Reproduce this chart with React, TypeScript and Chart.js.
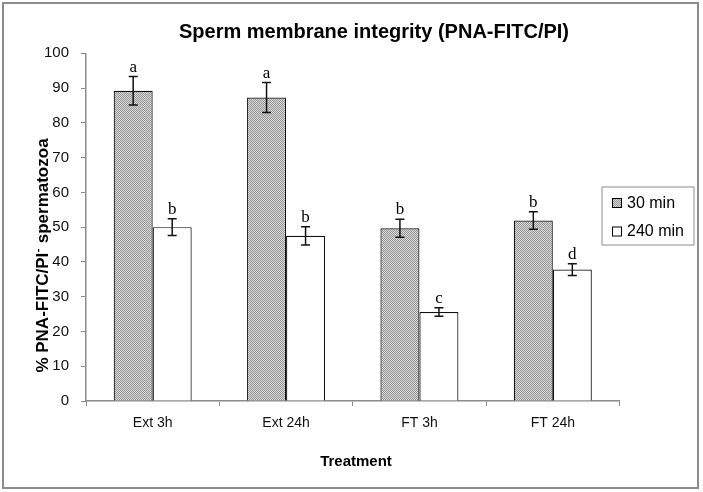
import React, { useEffect, useRef } from "react";
import Chart from "chart.js/auto";

const categories = ["Ext 3h", "Ext 24h", "FT 3h", "FT 24h"];
const seriesLabels = ["30 min", "240 min"];
const min30 = [89.2, 87.3, 49.7, 51.9];
const min30Err = [4.1, 4.3, 2.6, 2.5];
const min240 = [50.0, 47.5, 25.6, 37.8];
const min240Err = [2.4, 2.6, 1.2, 1.7];
const letters30 = ["a", "a", "b", "b"];
const letters240 = ["b", "b", "c", "d"];
const yTicks = [0, 10, 20, 30, 40, 50, 60, 70, 80, 90, 100];

const chartTitle = "Sperm membrane integrity (PNA-FITC/PI)";
const xTitle = "Treatment";
const yTitleParts = ["% PNA-FITC/PI", "-", " spermatozoa"];

const SANS = "'Liberation Sans', Arial, sans-serif";
const SERIF = "'Liberation Serif', 'Times New Roman', serif";

function makePattern(): CanvasPattern | string {
  const c = document.createElement("canvas");
  c.width = 2;
  c.height = 2;
  const g = c.getContext("2d");
  if (!g) return "#b4b4b4";
  g.fillStyle = "#d6d6d6";
  g.fillRect(0, 0, 2, 2);
  g.fillStyle = "#989898";
  g.fillRect(0, 0, 1, 1);
  g.fillRect(1, 1, 1, 1);
  const p = g.createPattern(c, "repeat");
  return p || "#b4b4b4";
}

export default function App() {
  const ref = useRef<HTMLCanvasElement | null>(null);

  useEffect(() => {
    const canvas = ref.current;
    if (!canvas) return;
    const pattern = makePattern();
    const errs = [min30Err, min240Err];
    const letters = [letters30, letters240];

    const overlay = {
      id: "overlay",
      beforeDraw(chart: any) {
        const ctx = chart.ctx;
        ctx.save();
        ctx.fillStyle = "#ffffff";
        ctx.fillRect(0, 0, chart.width, chart.height);
        ctx.restore();
      },
      afterDatasetsDraw(chart: any) {
        const ctx = chart.ctx;
        const y = chart.scales.y;
        ctx.save();
        chart.data.datasets.forEach((ds: any, di: number) => {
          const meta = chart.getDatasetMeta(di);
          meta.data.forEach((bar: any, i: number) => {
            const v = ds.data[i];
            const e = errs[di][i];
            const x = bar.x;
            const yt = y.getPixelForValue(v + e);
            const yb = y.getPixelForValue(v - e);
            ctx.strokeStyle = "#111";
            ctx.lineWidth = 1.5;
            ctx.beginPath();
            ctx.moveTo(x, yt);
            ctx.lineTo(x, yb);
            ctx.moveTo(x - 4.5, yt);
            ctx.lineTo(x + 4.5, yt);
            ctx.moveTo(x - 4.5, yb);
            ctx.lineTo(x + 4.5, yb);
            ctx.stroke();
            ctx.fillStyle = "#000";
            ctx.font = `17px ${SERIF}`;
            ctx.textAlign = "center";
            ctx.textBaseline = "alphabetic";
            ctx.fillText(letters[di][i], x, yt - 5);
          });
        });
        ctx.restore();
      },
      afterDraw(chart: any) {
        const ctx = chart.ctx;
        ctx.save();
        // outer border
        ctx.strokeStyle = "#8c8c8c";
        ctx.lineWidth = 2;
        ctx.strokeRect(3, 3, 695, 485);
        // title
        ctx.fillStyle = "#000";
        ctx.textAlign = "center";
        ctx.textBaseline = "middle";
        ctx.font = `bold 20px ${SANS}`;
        ctx.fillText(chartTitle, 374, 32);
        // x title
        ctx.font = `bold 15px ${SANS}`;
        ctx.fillText(xTitle, 356, 462);
        // y title with superscript
        ctx.translate(43.5, 256);
        ctx.rotate(-Math.PI / 2);
        ctx.textAlign = "left";
        const f1 = `bold 17px ${SANS}`;
        const f2 = `bold 11px ${SANS}`;
        ctx.font = f1;
        const w1 = ctx.measureText(yTitleParts[0]).width;
        const w3 = ctx.measureText(yTitleParts[2]).width;
        ctx.font = f2;
        const w2 = ctx.measureText(yTitleParts[1]).width;
        let sx = -(w1 + w2 + w3) / 2;
        ctx.font = f1;
        ctx.fillText(yTitleParts[0], sx, 0);
        sx += w1;
        ctx.font = f2;
        ctx.fillText(yTitleParts[1], sx + 0.5, -6);
        sx += w2 + 1;
        ctx.font = f1;
        ctx.fillText(yTitleParts[2], sx, 0);
        ctx.setTransform(1, 0, 0, 1, 0, 0);
        // legend
        ctx.strokeStyle = "#8c8c8c";
        ctx.lineWidth = 1;
        ctx.strokeRect(602, 187, 92, 58);
        const ys = [202.5, 231];
        chart.data.datasets.forEach((ds: any, di: number) => {
          ctx.fillStyle = ds.backgroundColor;
          ctx.fillRect(612, ys[di] - 4.5, 9, 9);
          ctx.strokeStyle = "#000";
          ctx.lineWidth = 1;
          ctx.strokeRect(612.5, ys[di] - 4, 9, 9);
          ctx.fillStyle = "#000";
          ctx.font = `16px ${SANS}`;
          ctx.textAlign = "left";
          ctx.textBaseline = "middle";
          ctx.fillText(ds.label, 627, ys[di] + 1);
        });
        ctx.restore();
      },
    };

    const chart = new Chart(canvas, {
      type: "bar",
      data: {
        labels: categories,
        datasets: [
          {
            label: seriesLabels[0],
            data: min30,
            backgroundColor: pattern as any,
            borderColor: "#111",
            borderWidth: 1.2,
            categoryPercentage: 0.585,
            barPercentage: 1,
          },
          {
            label: seriesLabels[1],
            data: min240,
            backgroundColor: "#ffffff",
            borderColor: "#111",
            borderWidth: 1.2,
            categoryPercentage: 0.585,
            barPercentage: 1,
          },
        ],
      },
      options: {
        animation: false,
        responsive: false,
        devicePixelRatio: 1,
        layout: { padding: { top: 53.3, left: 0, right: 83.5, bottom: 0 } },
        plugins: {
          legend: { display: false },
          title: { display: false },
          tooltip: { enabled: false },
        },
        scales: {
          x: {
            offset: true,
            grid: {
              offset: true,
              drawOnChartArea: false,
              drawTicks: true,
              tickLength: 5,
              color: "#8c8c8c",
            },
            border: { color: "#8c8c8c", width: 1.5 },
            ticks: {
              color: "#111",
              font: { family: SANS, size: 14 },
              padding: 9,
              maxRotation: 0,
            },
            afterFit: (s: any) => {
              s.height = 91;
            },
          },
          y: {
            min: 0,
            max: 100,
            grid: {
              drawOnChartArea: false,
              drawTicks: true,
              tickLength: 5,
              color: "#8c8c8c",
            },
            border: { color: "#8c8c8c", width: 1.5 },
            ticks: {
              stepSize: 5,
              color: "#111",
              font: { family: SANS, size: 15 },
              padding: 12,
              callback: (v: any) => (yTicks.includes(Number(v)) ? String(v) : ""),
            },
            afterFit: (s: any) => {
              s.width = 86;
            },
          },
        },
      },
      plugins: [overlay],
    });
    return () => chart.destroy();
  }, []);

  return (
    <div style={{ position: "absolute", left: 0, top: 0, width: 703, height: 492 }}>
      <canvas ref={ref} width={703} height={492} style={{ display: "block" }} />
    </div>
  );
}
